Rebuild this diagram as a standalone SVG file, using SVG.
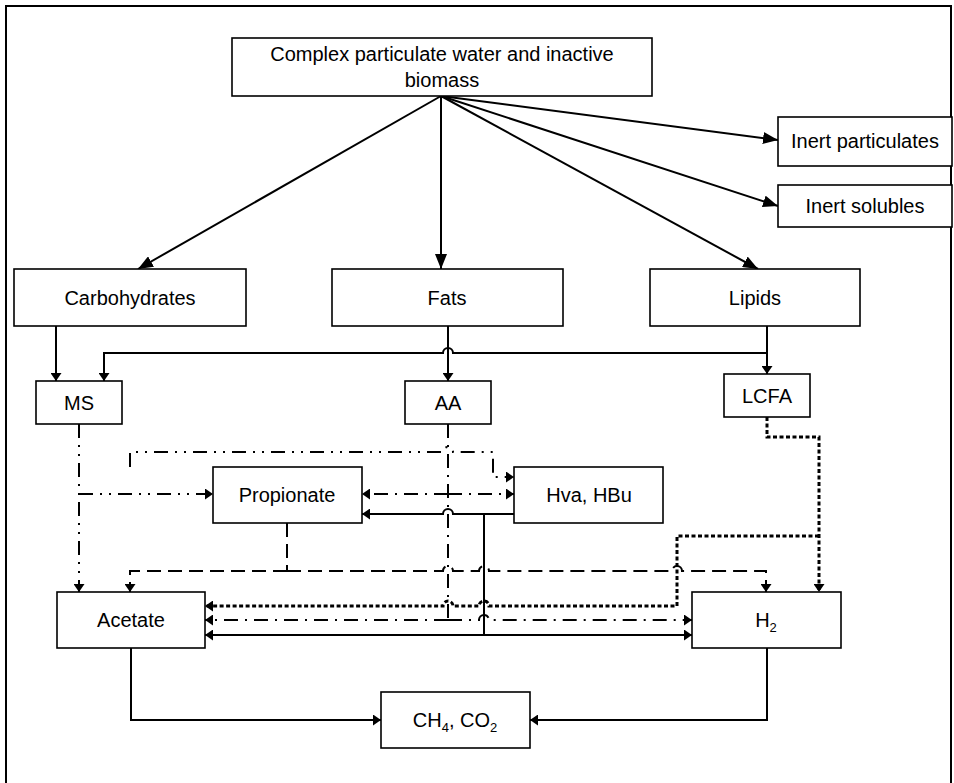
<svg xmlns="http://www.w3.org/2000/svg" width="954" height="783" viewBox="0 0 954 783">
<defs>
<marker id="big" markerUnits="userSpaceOnUse" markerWidth="15" markerHeight="12" viewBox="0 0 15 12" refX="15" refY="6" orient="auto"><path d="M0,0 L15,6 L0,12 z" fill="#000"/></marker>
<marker id="sm" markerUnits="userSpaceOnUse" markerWidth="8" markerHeight="11" viewBox="0 0 8 11" refX="8" refY="5.5" orient="auto"><path d="M0,0 L8,5.5 L0,11 z" fill="#000"/></marker>
</defs>
<style>
.box{fill:#fff;stroke:#000;stroke-width:1.6}
.t{font-family:"Liberation Sans",Arial,sans-serif;font-size:20px;fill:#000;text-anchor:middle}
.c{fill:none;stroke:#000;stroke-width:2}
.fan{marker-end:url(#big)}
.a{marker-end:url(#sm)}
.dd{stroke-dasharray:14 7 2 7 2 7}
.da{stroke-dasharray:14 7 2 7}
.ds{stroke-dasharray:14 7}
.dt{stroke-width:3;stroke-dasharray:4 2.5}
</style>
<path d="M6,783 V6 H951 V783" fill="none" stroke="#000" stroke-width="2"/>
<g id="connectors">
<path class="c fan" d="M441,96 L138,269"/>
<path class="c fan" d="M441,96 L441,269"/>
<path class="c fan" d="M441,96 L758,269"/>
<path class="c fan" d="M441,96 L778,140"/>
<path class="c fan" d="M441,96 L778,206"/>
<path class="c a" d="M56,326 V381"/>
<path class="c a" d="M448,326 V381"/>
<path class="c a" d="M767,326 V374"/>
<path class="c a" d="M767,353 H453 A5,5 0 0 0 443,353 H104 V381"/>
<path class="c a" d="M514,514 H453 A5,5 0 0 0 443,514 H362"/>
<path class="c" d="M484,514 V635"/>
<path class="c a" d="M484,635 H205"/>
<path class="c a" d="M484,635 H692"/>
<path class="c a" d="M131,648 V720 H381"/>
<path class="c a" d="M767,648 V720 H530"/>
<path class="c dd a" d="M79,424 V592"/>
<path class="c dd a" d="M79,494 H213"/>
<path class="c dd a" d="M130,467 V452 H443 A5,5 0 0 1 453,452 H493 V477 H514"/>
<path class="c da" d="M448,424 V620"/>
<path class="c da a" d="M448,620 H205"/>
<path class="c da a" d="M448,620 H479 A5,5 0 0 1 489,620 H692"/>
<path class="c da a" d="M448,494 H362"/>
<path class="c da a" d="M448,494 H514"/>
<path class="c ds" d="M287,523 V571"/>
<path class="c ds a" d="M287,571 H130 V592"/>
<path class="c ds a" d="M287,571 H443 A5,5 0 0 1 453,571 H479 A5,5 0 0 1 489,571 H672 A5,5 0 0 1 682,571 H766 V592"/>
<path class="c dt a" d="M767,417 V437 H819 V592"/>
<path class="c dt a" d="M819,536 H677 V606 H489 A5,5 0 0 0 479,606 H453 A5,5 0 0 0 443,606 H205"/>
</g>
<g id="n-complex"><rect class="box" x="232" y="38" width="420" height="58"/><text class="t" x="442" y="61">Complex particulate water and inactive</text><text class="t" x="442" y="87">biomass</text></g>
<g id="n-inert-part"><rect class="box" x="778" y="117" width="174" height="49"/><text class="t" x="865" y="148">Inert particulates</text></g>
<g id="n-inert-sol"><rect class="box" x="778" y="185" width="174" height="42"/><text class="t" x="865" y="213">Inert solubles</text></g>
<g id="n-carb"><rect class="box" x="14" y="269" width="232" height="57"/><text class="t" x="130" y="305">Carbohydrates</text></g>
<g id="n-fats"><rect class="box" x="332" y="269" width="231" height="57"/><text class="t" x="447" y="305">Fats</text></g>
<g id="n-lipids"><rect class="box" x="650" y="269" width="210" height="57"/><text class="t" x="755" y="305">Lipids</text></g>
<g id="n-ms"><rect class="box" x="36" y="381" width="86" height="43"/><text class="t" x="79" y="410">MS</text></g>
<g id="n-aa"><rect class="box" x="405" y="381" width="86" height="43"/><text class="t" x="448" y="410">AA</text></g>
<g id="n-lcfa"><rect class="box" x="724" y="374" width="86" height="43"/><text class="t" x="767" y="403">LCFA</text></g>
<g id="n-prop"><rect class="box" x="213" y="467" width="149" height="56"/><text class="t" x="287" y="502">Propionate</text></g>
<g id="n-hva"><rect class="box" x="514" y="467" width="149" height="56"/><text class="t" x="589" y="502">Hva, HBu</text></g>
<g id="n-acetate"><rect class="box" x="57" y="592" width="148" height="56"/><text class="t" x="131" y="627">Acetate</text></g>
<g id="n-h2"><rect class="box" x="692" y="592" width="149" height="56"/><text class="t" x="766" y="627">H<tspan font-size="13" dy="5">2</tspan></text></g>
<g id="n-ch4"><rect class="box" x="381" y="692" width="149" height="56"/><text class="t" x="455" y="727">CH<tspan font-size="13" dy="5">4</tspan><tspan dy="-5">, CO</tspan><tspan font-size="13" dy="5">2</tspan></text></g>
</svg>
